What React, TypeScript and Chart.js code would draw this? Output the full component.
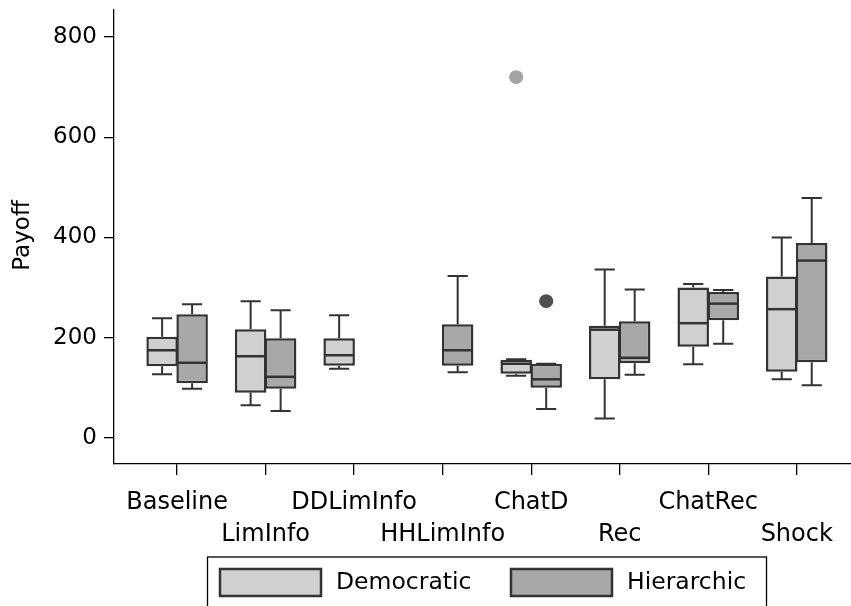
import React, { useEffect, useRef } from 'react';
import { Chart, registerables } from 'chart.js';

Chart.register(...registerables);

// ---- data ----
const CATEGORIES = ['Baseline', 'LimInfo', 'DDLimInfo', 'HHLimInfo', 'ChatD', 'Rec', 'ChatRec', 'Shock'];
const SERIES = ['Democratic', 'Hierarchic'];
const Y_TITLE = 'Payoff';

const DEM_LOWER = [127, 65, 138, null, 124, 39, 147, 117];
const DEM_Q1 = [143, 90, 144, null, 128, 117, 182, 132];
const DEM_MEDIAN = [175, 163, 165, null, 148, 216, 229, 257];
const DEM_Q3 = [202, 217, 199, null, 156, 224, 300, 322];
const DEM_UPPER = [239, 273, 245, null, 157, 336, 307, 400];

const HIER_LOWER = [98, 54, null, 131, 58, 126, 188, 105];
const HIER_Q1 = [109, 98, null, 144, 100, 149, 235, 151];
const HIER_MEDIAN = [150, 122, null, 175, 117, 160, 268, 354];
const HIER_Q3 = [247, 199, null, 227, 148, 233, 291, 389];
const HIER_UPPER = [267, 255, null, 323, 148, 296, 295, 479];

const DEM_OUTLIERS = [{ category: 'ChatD', value: 720 }];
const HIER_OUTLIERS = [{ category: 'ChatD', value: 273 }];

const Y_TICKS = [0, 200, 400, 600, 800];

// ---- styles ----
const FILLS = ['#d0d0d0', '#a8a8a8'];
const OUTLIER_COLORS = ['#a4a4a4', '#505050'];
const LINE_COLOR = '#333333';
const FONT = 'DejaVu Sans';
const CAT_PCT = 0.678;
const BAR_PCT = 1.05;

const STATS = [
  { lower: DEM_LOWER, q1: DEM_Q1, median: DEM_MEDIAN, q3: DEM_Q3, upper: DEM_UPPER },
  { lower: HIER_LOWER, q1: HIER_Q1, median: HIER_MEDIAN, q3: HIER_Q3, upper: HIER_UPPER },
];
const OUTLIERS = [DEM_OUTLIERS, HIER_OUTLIERS];

function boxData(s: number) {
  const st = STATS[s];
  const out: any[] = [];
  CATEGORIES.forEach((_, i) => {
    if (st.q1[i] != null && st.q3[i] != null) out.push({ x: i + 1, y: [st.q1[i], st.q3[i]] });
  });
  return out;
}

function outlierData(s: number) {
  const off = (s === 0 ? -1 : 1) * CAT_PCT / 4;
  return OUTLIERS[s].map((o) => ({ x: CATEGORIES.indexOf(o.category) + 1 + off, y: o.value }));
}

const boxPlugin = {
  id: 'boxWhiskers',
  beforeDatasetsDraw(chart: any) {
    const ctx = chart.ctx;
    const y = chart.scales.y;
    ctx.save();
    ctx.strokeStyle = LINE_COLOR;
    ctx.lineWidth = 2;
    [0, 1].forEach((s) => {
      const meta = chart.getDatasetMeta(s);
      const ds = chart.data.datasets[s];
      meta.data.forEach((el: any, j: number) => {
        const i = ds.data[j].x - 1;
        const st = STATS[s];
        const cx = el.x;
        const half = el.width * 0.32;
        const yU = y.getPixelForValue(st.upper[i]);
        const yQ3 = y.getPixelForValue(st.q3[i]);
        const yQ1 = y.getPixelForValue(st.q1[i]);
        const yL = y.getPixelForValue(st.lower[i]);
        ctx.beginPath();
        ctx.moveTo(cx, yQ3);
        ctx.lineTo(cx, yU);
        ctx.moveTo(cx - half, yU);
        ctx.lineTo(cx + half, yU);
        ctx.moveTo(cx, yQ1);
        ctx.lineTo(cx, yL);
        ctx.moveTo(cx - half, yL);
        ctx.lineTo(cx + half, yL);
        ctx.stroke();
      });
    });
    ctx.restore();
  },
  afterDatasetsDraw(chart: any) {
    const ctx = chart.ctx;
    const y = chart.scales.y;
    ctx.save();
    ctx.strokeStyle = LINE_COLOR;
    ctx.lineWidth = 2.5;
    [0, 1].forEach((s) => {
      const meta = chart.getDatasetMeta(s);
      const ds = chart.data.datasets[s];
      meta.data.forEach((el: any, j: number) => {
        const i = ds.data[j].x - 1;
        const ym = y.getPixelForValue(STATS[s].median[i]);
        ctx.beginPath();
        ctx.moveTo(el.x - el.width / 2 + 1, ym);
        ctx.lineTo(el.x + el.width / 2 - 1, ym);
        ctx.stroke();
      });
    });
    ctx.restore();
  },
};

const legendPlugin = {
  id: 'boxLegend',
  afterDraw(chart: any) {
    const ctx = chart.ctx;
    ctx.save();
    // y-axis title
    ctx.save();
    ctx.translate(23, 235.5);
    ctx.rotate(-Math.PI / 2);
    ctx.fillStyle = '#000';
    ctx.font = `23px "${FONT}"`;
    ctx.textAlign = 'center';
    ctx.textBaseline = 'middle';
    ctx.fillText(Y_TITLE, 0, 0);
    ctx.restore();
    // legend
    ctx.strokeStyle = '#000';
    ctx.lineWidth = 1.3;
    ctx.strokeRect(207.5, 557, 559, 80);
    const items = [
      { rx: 220, tx: 336 },
      { rx: 511, tx: 627 },
    ];
    items.forEach((it, s) => {
      const ds = chart.data.datasets[s];
      ctx.fillStyle = ds.backgroundColor;
      ctx.fillRect(it.rx, 569, 101, 27);
      ctx.strokeStyle = LINE_COLOR;
      ctx.lineWidth = 2.5;
      ctx.strokeRect(it.rx, 569, 101, 27);
      ctx.fillStyle = '#000';
      ctx.font = `23.5px "${FONT}"`;
      ctx.textBaseline = 'middle';
      ctx.textAlign = 'left';
      ctx.fillText(ds.label, it.tx, 583);
    });
    ctx.restore();
  },
};

function noPad(s: any) {
  s.paddingTop = 0;
  s.paddingBottom = 0;
  s.paddingLeft = 0;
  s.paddingRight = 0;
}

export default function App() {
  const ref = useRef<HTMLCanvasElement>(null);
  useEffect(() => {
    document.body.style.margin = '0';
    const canvas = ref.current!;
    const chart = new Chart(canvas, {
      type: 'bar',
      data: {
        datasets: [
          ...SERIES.map((label, s) => ({
            type: 'bar' as const,
            label,
            data: boxData(s),
            backgroundColor: FILLS[s],
            borderColor: LINE_COLOR,
            borderWidth: 2.5,
            borderSkipped: false,
            categoryPercentage: CAT_PCT,
            barPercentage: BAR_PCT,
            grouped: true,
          })),
          ...SERIES.map((label, s) => ({
            type: 'scatter' as const,
            label: label + ' outliers',
            data: outlierData(s),
            backgroundColor: OUTLIER_COLORS[s],
            borderWidth: 0,
            pointRadius: 7,
          })),
        ],
      } as any,
      options: {
        animation: false,
        responsive: false,
        devicePixelRatio: 1,
        layout: { autoPadding: false, padding: { top: 10, left: 0, right: 0, bottom: 0 } },
        plugins: { legend: { display: false }, tooltip: { enabled: false } },
        scales: {
          x: {
            type: 'linear',
            offset: false,
            min: 0.287,
            max: 8.613,
            afterBuildTicks: (s: any) => {
              s.ticks = CATEGORIES.map((_, i) => ({ value: i + 1 }));
            },
            afterFit: (s: any) => {
              s.height = 142;
              noPad(s);
            },
            grid: { offset: false, drawOnChartArea: false, tickLength: 11, color: '#000', lineWidth: 1.3 },
            border: { display: true, color: '#000', width: 1.3 },
            ticks: {
              autoSkip: false,
              maxRotation: 0,
              minRotation: 0,
              padding: 12,
              color: '#000',
              font: { family: FONT, size: 24, lineHeight: 1.33 },
              callback: (v: any) => {
                const i = Math.round(Number(v)) - 1;
                const l = CATEGORIES[i] ?? '';
                return i % 2 === 0 ? [l, ''] : ['', l];
              },
            },
          },
          y: {
            type: 'linear',
            min: -52,
            max: 854,
            afterBuildTicks: (s: any) => {
              s.ticks = Y_TICKS.map((v) => ({ value: v }));
            },
            afterFit: (s: any) => {
              s.width = 114;
              noPad(s);
            },
            grid: { drawOnChartArea: false, tickLength: 10, color: '#000', lineWidth: 1.3 },
            border: { display: true, color: '#000', width: 1.3 },
            ticks: { padding: 7, color: '#000', font: { family: FONT, size: 23 } },
            title: { display: false },
          },
        },
      } as any,
      plugins: [boxPlugin, legendPlugin],
    });
    return () => chart.destroy();
  }, []);
  return <canvas ref={ref} width={851} height={606} style={{ display: 'block', width: 851, height: 606 }} />;
}
